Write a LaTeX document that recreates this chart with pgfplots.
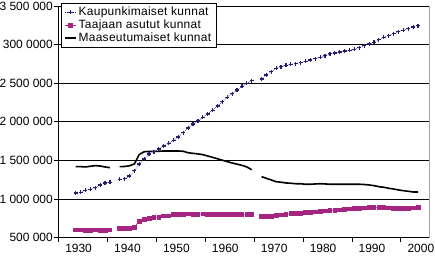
\documentclass[border=0pt]{standalone}
\usepackage{fontspec}
\setmainfont{Liberation Sans}
\newfontfamily\legfont[LetterSpace=2.5]{Liberation Sans}
\usepackage{pgfplots}
\pgfplotsset{compat=1.18}
\definecolor{kblue}{RGB}{38,30,112}
\definecolor{kpink}{RGB}{165,38,128}
\begin{document}
\fontsize{12}{14}\selectfont
\begin{tikzpicture}
\begin{axis}[
  scale only axis, width=371bp, height=231.7bp,
  xmin=1926.38, xmax=2002.25, ymin=500000, ymax=3500000,
  clip=false,
  axis x line*=bottom, axis y line*=left,
  axis line style={-, black, line width=0.8bp},
  tick align=outside, major tick length=4bp,
  tick style={black, line width=0.8bp},
  xtick={1926.5,1936.5,1946.5,1956.5,1966.5,1976.5,1986.5,1996.5},
  xticklabels={1930,1940,1950,1960,1970,1980,1990,2000},
  xticklabel style={xshift=20bp, inner sep=2bp},
  ytick={500000,1000000,1500000,2000000,2500000,3000000,3500000},
  yticklabels={500~000,1~000~000,1~500~000,2~000~000,2~500~000,300~0000,3~500~000},
  yticklabel style={inner xsep=1bp},
  scaled y ticks=false,
  ticklabel style={font=\fontsize{12}{13}\selectfont},
  ymajorgrids, grid style={black, line width=0.8bp},
  unbounded coords=jump,
  legend style={at={(rel axis cs:0,1)}, anchor=north west, xshift=3bp, yshift=3.3bp,
    draw=black, line width=0.8bp, fill=white, inner xsep=3bp, inner ysep=2bp,
    row sep=-1.5bp, font=\legfont\fontsize{12}{13}\selectfont,
    /tikz/every even column/.append style={column sep=2bp}},
  legend cell align=left,
  legend image code/.code={\draw[mark repeat=2,mark phase=2,#1] plot coordinates {(0bp,0bp) (5.3bp,0bp) (10.6bp,0bp)};},
]
\addplot[kblue, line width=0.6bp, densely dotted, mark=+, mark size=2bp, mark options={solid, line width=1.2bp}] coordinates {
(1930,1080000)(1931,1088000)(1932,1114000)(1933,1127000)(1934,1148000)(1935,1183000)(1936,1208000)(1937,1217000)(1938,nan)
(1939,1256000)(1940,1262000)(1941,1299000)(1942,1368000)(1943,1455000)(1944,1519000)(1945,1584000)(1946,1614000)(1947,1649000)(1948,1688000)(1949,1723000)
(1950,1760000)(1951,1804000)(1952,1860000)(1953,1921000)(1954,1973000)(1955,2012000)(1956,2060000)(1957,2102000)(1958,2150000)(1959,2206000)
(1960,2262000)(1961,2319000)(1962,2365000)(1963,2413000)(1964,2461000)(1965,2500000)(1966,2534000)(1967,nan)
(1968,2556000)(1969,2607000)(1970,2650000)(1971,2694000)(1972,2715000)(1973,2733000)(1974,2746000)(1975,2754000)(1976,2767000)(1977,2785000)(1978,2802000)(1979,2819000)
(1980,2837000)(1981,2857000)(1982,2880000)(1983,2892000)(1984,2905000)(1985,2918000)(1986,2927000)(1987,2940000)(1988,2961000)(1989,2987000)
(1990,3009000)(1991,3031000)(1992,3065000)(1993,3096000)(1994,3117000)(1995,3142000)(1996,3168000)(1997,3186000)(1998,3207000)(1999,3229000)(2000,3246000)
};
\addlegendentry{Kaupunkimaiset kunnat}
\addplot[kpink, line width=0.8bp, mark=square*, mark size=1.9bp, mark options={solid}] coordinates {
(1930,600000)(1931,600000)(1932,596000)(1933,596000)(1934,600000)(1935,592000)(1936,592000)(1937,600000)(1938,nan)
(1939,617000)(1940,617000)(1941,617000)(1942,635000)(1943,714000)(1944,734000)(1945,750000)(1946,760000)(1947,768000)(1948,781000)(1949,783000)
(1950,798000)(1951,803000)(1952,803000)(1953,807000)(1954,803000)(1955,803000)(1956,809000)(1957,803000)(1958,800000)(1959,800000)
(1960,800000)(1961,798000)(1962,798000)(1963,798000)(1964,798000)(1965,798000)(1966,798000)(1967,nan)
(1968,772000)(1969,772000)(1970,777000)(1971,785000)(1972,794000)(1973,803000)(1974,811000)(1975,816000)(1976,816000)(1977,824000)(1978,829000)(1979,833000)
(1980,837000)(1981,846000)(1982,855000)(1983,855000)(1984,859000)(1985,868000)(1986,872000)(1987,876000)(1988,881000)(1989,885000)
(1990,889000)(1991,889000)(1992,889000)(1993,889000)(1994,885000)(1995,881000)(1996,881000)(1997,881000)(1998,881000)(1999,885000)(2000,889000)
};
\addlegendentry{Taajaan asutut kunnat}
\addplot[black, line width=1.6bp, line join=round, no marks] coordinates {
(1930,1420000)(1931,1420000)(1932,1416000)(1933,1425000)(1934,1433000)(1935,1428000)(1936,1416000)(1937,1407000)(1938,nan)
(1939,1420000)(1940,1422000)(1941,1431000)(1942,1455000)(1943,1578000)(1944,1613000)(1945,1617000)(1946,1617000)(1947,1619000)(1948,1623000)(1949,1623000)
(1950,1623000)(1951,1623000)(1952,1619000)(1953,1600000)(1954,1592000)(1955,1585000)(1956,1575000)(1957,1558000)(1958,1540000)(1959,1522000)
(1960,1503000)(1961,1485000)(1962,1467000)(1963,1452000)(1964,1437000)(1965,1416000)(1966,1380000)(1967,nan)
(1968,1290000)(1969,1269000)(1970,1247000)(1971,1225000)(1972,1218000)(1973,1209000)(1974,1205000)(1975,1199000)(1976,1199000)(1977,1192000)(1978,1192000)(1979,1196000)
(1980,1199000)(1981,1196000)(1982,1192000)(1983,1192000)(1984,1192000)(1985,1192000)(1986,1192000)(1987,1192000)(1988,1192000)(1989,1189000)
(1990,1183000)(1991,1174000)(1992,1161000)(1993,1153000)(1994,1140000)(1995,1131000)(1996,1118000)(1997,1109000)(1998,1101000)(1999,1092000)(2000,1092000)
};
\addlegendentry{Maaseutumaiset kunnat}
\draw[gray!70, line width=0.8bp] (rel axis cs:1,0) -- (rel axis cs:1,1);
\coordinate (SW) at (rel axis cs:0,0);
\coordinate (NE) at (rel axis cs:1,1);
\end{axis}
\pgfresetboundingbox
\path ([shift={(-58bp,-19.3bp)}]SW) rectangle ([shift={(6bp,6bp)}]NE);
\end{tikzpicture}
\end{document}
